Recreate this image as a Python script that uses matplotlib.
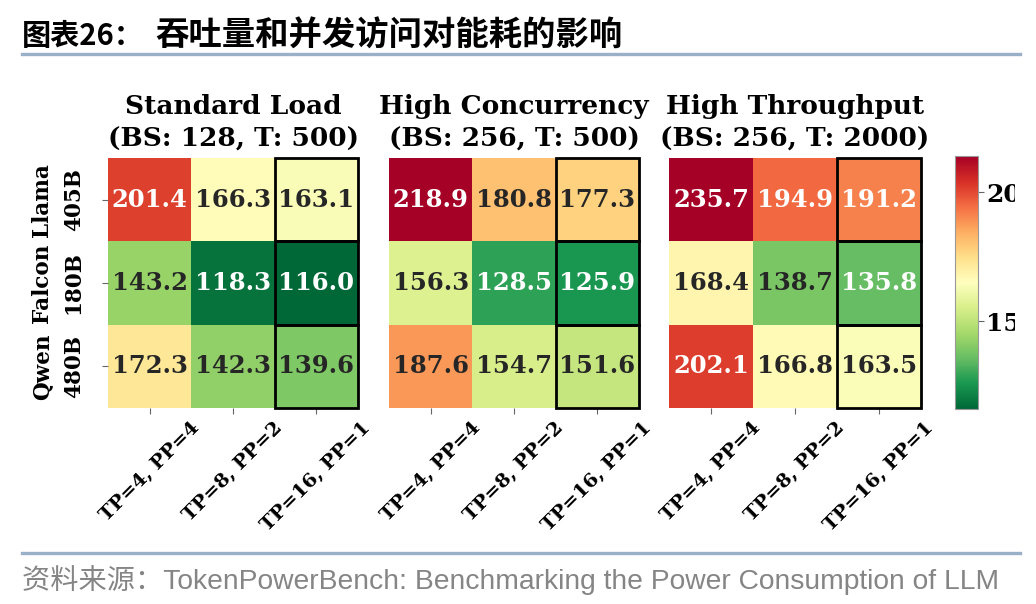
import numpy as np
import matplotlib
matplotlib.use("Agg")
import matplotlib.pyplot as plt
from matplotlib.colors import Normalize, to_rgb
from matplotlib.patches import Rectangle
from matplotlib.lines import Line2D
from matplotlib.transforms import Bbox

# ---------------- data ----------------
panel_titles = ["Standard Load\n(BS: 128, T: 500)",
                "High Concurrency\n(BS: 256, T: 500)",
                "High Throughput\n(BS: 256, T: 2000)"]
models = ["Llama\n405B", "Falcon\n180B", "Qwen\n480B"]
configs = ["TP=4, PP=4", "TP=8, PP=2", "TP=16, PP=1"]
standard_load = [[201.4, 166.3, 163.1],
                 [143.2, 118.3, 116.0],
                 [172.3, 142.3, 139.6]]
high_concurrency = [[218.9, 180.8, 177.3],
                    [156.3, 128.5, 125.9],
                    [187.6, 154.7, 151.6]]
high_throughput = [[235.7, 194.9, 191.2],
                   [168.4, 138.7, 135.8],
                   [202.1, 166.8, 163.5]]
cbar_ticks = [150, 200]
vmin, vmax = 116.0, 214.0

W, H = 1036, 604
fig = plt.figure(figsize=(W / 100, H / 100), dpi=100)
fig.patch.set_facecolor("white")

def px_axes(x0, y0, x1, y1):
    return fig.add_axes([x0 / W, 1 - y1 / H, (x1 - x0) / W, (y1 - y0) / H])

cmap = plt.get_cmap("RdYlGn_r")
norm = Normalize(vmin=vmin, vmax=vmax)
serif = "DejaVu Serif"

def lum(c):
    rgb = np.array(to_rgb(c))
    rgb = np.where(rgb <= .03928, rgb / 12.92, ((rgb + .055) / 1.055) ** 2.4)
    return 0.2126 * rgb[0] + 0.7152 * rgb[1] + 0.0722 * rgb[2]

panels = [standard_load, high_concurrency, high_throughput]
xs = [(108, 358), (389, 639), (669, 921)]
for i, (data, (x0, x1)) in enumerate(zip(panels, xs)):
    ax = px_axes(x0, 158, x1, 408)
    arr = np.array(data)
    ax.pcolormesh(np.arange(4), np.arange(4), arr, cmap=cmap, norm=norm)
    ax.set_xlim(0, 3)
    ax.set_ylim(3, 0)
    for sp in ax.spines.values():
        sp.set_visible(False)
    for r in range(3):
        for c in range(3):
            v = arr[r, c]
            col = cmap(norm(v))
            tc = ".15" if lum(col) > .408 else "w"
            ax.text(c + 0.5, r + 0.5, f"{v:.1f}", ha="center", va="center",
                    color=tc, fontsize=17.5, fontweight="bold", family=serif)
        ax.add_patch(Rectangle((2, r), 1, 1, fill=False, edgecolor="black",
                               linewidth=2, zorder=5, clip_on=False))
    ax.set_xticks(np.arange(3) + 0.5)
    ax.set_xticklabels(configs, rotation=45, fontsize=14, fontweight="bold",
                       family=serif)
    ax.tick_params(axis="both", length=4, width=0.8, color="#666666")
    if i == 0:
        ax.set_yticks(np.arange(3) + 0.5)
        ax.set_yticklabels(models, rotation=90, va="center", ha="center",
                           fontsize=15.5, fontweight="bold", family=serif,
                           linespacing=1.55)
        ax.tick_params(axis="y", pad=32)
    else:
        ax.set_yticks([])
    ax.set_title(panel_titles[i], fontsize=19, fontweight="bold", family=serif,
                 pad=8, linespacing=1.4)

# colorbar
cax = px_axes(955, 156, 978, 409)
cb = fig.colorbar(plt.cm.ScalarMappable(norm=norm, cmap=cmap), cax=cax)
cb.set_ticks(cbar_ticks)
cb.ax.tick_params(labelsize=18, length=4, width=0.8, color="#666666", pad=2)
clip = Bbox.from_extents(0, 0, 1015, H)
for lab in cb.ax.get_yticklabels():
    lab.set_family(serif)
    lab.set_fontweight("bold")
    lab.set_clip_box(clip)
    lab.set_clip_on(True)
cb.outline.set_edgecolor("#999999")
cb.outline.set_linewidth(0.8)

# header / footer
fig.text(22 / W, 1 - 36 / H, "图表26：", fontsize=21, fontweight="bold",
         family=["Noto Sans CJK SC", "DejaVu Sans"], va="center", ha="left")
fig.text(155 / W, 1 - 36 / H, "吞吐量和并发访问对能耗的影响", fontsize=24,
         fontweight="bold", family=["Noto Sans CJK SC", "DejaVu Sans"],
         va="center", ha="left")
fig.add_artist(Line2D([22 / W, 1020 / W], [1 - 54 / H, 1 - 54 / H],
                      color="#9aafc8", linewidth=2.4, transform=fig.transFigure))
fig.add_artist(Line2D([22 / W, 1020 / W], [1 - 553 / H, 1 - 553 / H],
                      color="#9aafc8", linewidth=2.4, transform=fig.transFigure))
fig.text(22 / W, 1 - 580 / H, "资料来源：TokenPowerBench: Benchmarking the Power Consumption of LLM",
         fontsize=20.3, color="#858585", family=["Liberation Sans", "Noto Sans CJK SC"],
         va="center", ha="left")

fig.savefig("out.png", dpi=100)
